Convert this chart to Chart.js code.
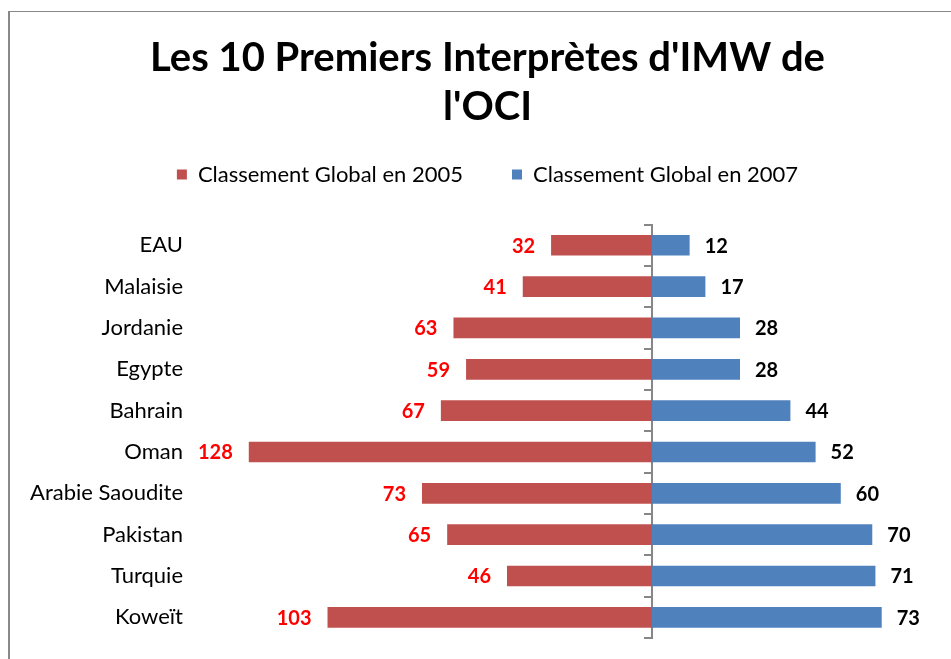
<!DOCTYPE html>
<html>
<head>
<meta charset="utf-8">
<script src="https://cdn.jsdelivr.net/npm/chart.js@4/dist/chart.umd.min.js"></script>
<style>
  html, body { margin: 0; padding: 0; background: #fff; overflow: hidden; }
  #frame { position: absolute; left: 8px; top: 11px; width: 2000px; height: 2000px;
           border-top: 1px solid #888; border-left: 2px solid #888; box-sizing: border-box; }
  #wrap { position: absolute; left: 0; top: 0; width: 951px; height: 659px; }
</style>
</head>
<body>
<div id="frame"></div>
<div id="wrap"><canvas id="c" width="951" height="659"></canvas></div>
<script>
const countries = ['EAU', 'Malaisie', 'Jordanie', 'Egypte', 'Bahrain', 'Oman', 'Arabie Saoudite', 'Pakistan', 'Turquie', 'Koweït'];
const rank2005 = [32, 41, 63, 59, 67, 128, 73, 65, 46, 103];
const rank2007 = [12, 17, 28, 28, 44, 52, 60, 70, 71, 73];
const seriesNames = ['Classement Global en 2005', 'Classement Global en 2007'];
const titleLines = ["Les 10 Premiers Interprètes d'IMW de", "l'OCI"];

const FONT = 'Lato, "Open Sans", sans-serif';

const valueLabels = {
  id: 'valueLabels',
  afterDatasetsDraw(chart) {
    const ctx = chart.ctx;
    ctx.save();
    ctx.font = 'bold 20px ' + FONT;
    ctx.textBaseline = 'middle';
    const m0 = chart.getDatasetMeta(0);
    m0.data.forEach((bar, j) => {
      ctx.fillStyle = '#FF0000';
      ctx.textAlign = 'right';
      ctx.fillText(String(rank2005[j]), bar.x - 16, bar.y + 1);
    });
    const m1 = chart.getDatasetMeta(1);
    m1.data.forEach((bar, j) => {
      ctx.fillStyle = '#000000';
      ctx.textAlign = 'left';
      ctx.fillText(String(rank2007[j]), bar.x + 15, bar.y + 1);
    });
    ctx.restore();
  }
};

new Chart(document.getElementById('c'), {
  type: 'bar',
  data: {
    labels: countries,
    datasets: [
      { label: seriesNames[0], data: rank2005.map(v => -v), backgroundColor: '#C0504D', yAxisID: 'y' },
      { label: seriesNames[1], data: rank2007, backgroundColor: '#4F81BD', yAxisID: 'y' }
    ]
  },
  options: {
    indexAxis: 'y',
    responsive: false,
    animation: false,
    barPercentage: 0.5,
    categoryPercentage: 1.0,
    layout: { padding: { left: 24, right: 0, top: 0, bottom: 21 } },
    scales: {
      x: {
        display: true,
        position: 'top',
        stacked: true,
        min: -140,
        max: 95,
        ticks: { display: false },
        grid: { display: false, drawTicks: true, tickLength: 29 },
        border: { display: false }
      },
      y: {
        stacked: true,
        position: 'left',
        grid: { display: false, drawTicks: false },
        border: { display: false },
        ticks: { color: '#000', font: { family: FONT, size: 22 }, padding: 28 },
        afterFit(scale) { scale.width = 187; scale.paddingTop = 0; scale.paddingBottom = 0; }
      },
      y2: {
        type: 'category',
        axis: 'y',
        position: { x: 0 },
        offset: true,
        ticks: { display: false },
        grid: { display: true, drawOnChartArea: false, drawTicks: true, tickLength: 7, color: '#868686', lineWidth: 2, offset: true },
        border: { display: true, color: '#868686', width: 2 }
      }
    },
    plugins: {
      title: {
        display: true,
        text: titleLines,
        color: '#000',
        font: { family: FONT, size: 40, weight: 'bold', lineHeight: 1.22 },
        padding: { top: 34, bottom: -17 }
      },
      legend: {
        display: true,
        position: 'top',
        labels: {
          color: '#000',
          font: { family: FONT, size: 22 },
          boxWidth: 10,
          boxHeight: 10,
          padding: 49
        }
      },
      tooltip: { enabled: false }
    }
  },
  plugins: [valueLabels]
});
</script>
</body>
</html>
